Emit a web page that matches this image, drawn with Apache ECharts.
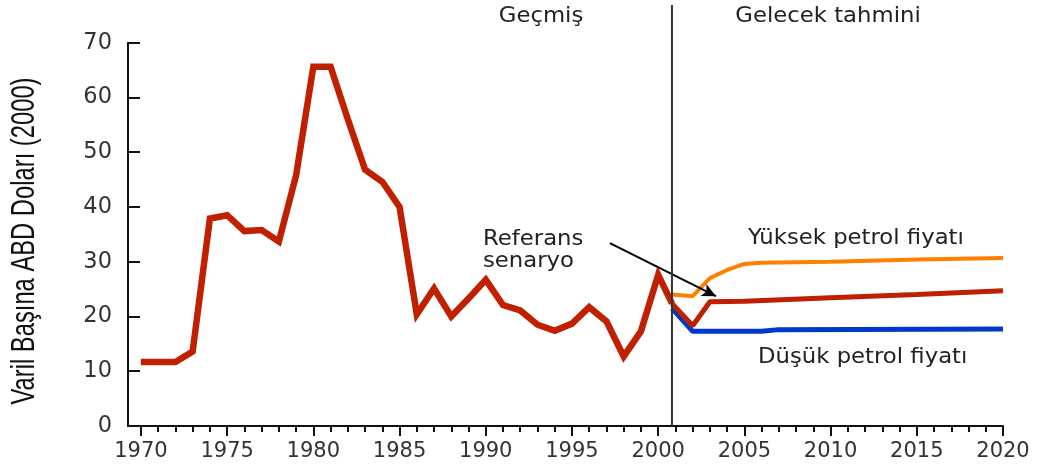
<!DOCTYPE html>
<html>
<head>
<meta charset="utf-8">
<script src="https://cdn.jsdelivr.net/npm/echarts@6/dist/echarts.min.js"></script>
<style>
  html, body { margin: 0; padding: 0; background: #fff; }
  #chart { width: 1038px; height: 464px; }
</style>
</head>
<body>
<div id="chart"></div>
<script>
  'use strict';

  /*----- data -----*/
  var histYears = [1970, 1971, 1972, 1973, 1974, 1975, 1976, 1977, 1978, 1979,
    1980, 1981, 1982, 1983, 1984, 1985, 1986, 1987, 1988, 1989,
    1990, 1991, 1992, 1993, 1994, 1995, 1996, 1997, 1998, 1999, 2000, 2000.8];
  var histValues = [11.7, 11.7, 11.7, 13.6, 37.9, 38.5, 35.6, 35.8, 33.7, 45.8,
    65.6, 65.6, 56.0, 46.8, 44.6, 40.0, 20.4, 25.1, 20.0, 23.3,
    26.7, 22.1, 21.1, 18.5, 17.4, 18.7, 21.7, 19.1, 12.7, 17.3, 27.6, 22.4];

  var refYears = [2000.8, 2002, 2003, 2005, 2010, 2015, 2020];
  var refValues = [22.4, 18.3, 22.7, 22.8, 23.4, 24.0, 24.7];

  var highYears = [2000.8, 2002, 2003, 2004, 2005, 2006, 2010, 2015, 2020];
  var highValues = [24.0, 23.7, 27.0, 28.5, 29.6, 29.8, 30.0, 30.4, 30.7];

  var lowYears = [2000.8, 2002, 2006, 2007, 2020];
  var lowValues = [21.5, 17.3, 17.3, 17.6, 17.7];

  var majorYears = [1970, 1975, 1980, 1985, 1990, 1995, 2000, 2005, 2010, 2015, 2020];
  var minorYears = [];
  for (var y = 1970; y <= 2020; y++) minorYears.push(y);

  var splitYear = 2000.8;

  function pairs(xs, vs) {
    return xs.map(function (x, i) { return [x, vs[i]]; });
  }

  var labelFont = 'DejaVu Sans';
  var red = '#c02000';

  var option = {
    animation: false,
    grid: { left: 128, right: 35, top: 42.7, bottom: 38 },
    xAxis: [
      {
        type: 'value',
        min: 1969.25,
        max: 2020,
        position: 'bottom',
        splitLine: { show: false },
        axisLine: { lineStyle: { color: '#111', width: 2 } },
        axisTick: { customValues: majorYears, length: 10, lineStyle: { color: '#111', width: 2 } },
        axisLabel: {
          customValues: majorYears,
          fontFamily: labelFont, fontSize: 21, color: '#333', margin: 15,
          formatter: function (v) { return String(v); }
        }
      },
      {
        type: 'value',
        min: 1969.25,
        max: 2020,
        position: 'bottom',
        splitLine: { show: false },
        axisLine: { show: false },
        axisTick: { customValues: minorYears, length: 6, lineStyle: { color: '#111', width: 2 } },
        axisLabel: { show: false }
      }
    ],
    yAxis: {
      type: 'value',
      min: 0,
      max: 70,
      interval: 10,
      splitLine: { show: false },
      axisLine: { show: true, lineStyle: { color: '#111', width: 2 } },
      axisTick: { show: true, inside: true, length: 12, lineStyle: { color: '#111', width: 2 } },
      axisLabel: { fontFamily: labelFont, fontSize: 22.5, color: '#333', margin: 16 }
    },
    series: [
      {
        name: 'Yüksek petrol fiyatı',
        type: 'line',
        showSymbol: false,
        data: pairs(highYears, highValues),
        lineStyle: { color: '#ff8000', width: 4 }
      },
      {
        name: 'Düşük petrol fiyatı',
        type: 'line',
        showSymbol: false,
        data: pairs(lowYears, lowValues),
        lineStyle: { color: '#0038c8', width: 5 }
      },
      {
        name: 'Referans senaryo',
        type: 'line',
        showSymbol: false,
        data: pairs(refYears, refValues),
        lineStyle: { color: red, width: 5 },
        markLine: {
          silent: true,
          symbol: ['none', 'arrow'],
          symbolSize: [10, 14],
          label: { show: false },
          lineStyle: { color: '#000', width: 2, type: 'solid' },
          data: [[{ coord: [1997.2, 33.4] }, { coord: [2003.35, 23.7] }]]
        }
      },
      {
        name: 'Geçmiş',
        type: 'line',
        showSymbol: false,
        data: pairs(histYears, histValues),
        lineStyle: { color: red, width: 6.5, join: 'miter' }
      }
    ]
  };

  var chart = echarts.init(document.getElementById('chart'));
  chart.setOption(option);

  // divider between history and forecast, and the free texts
  var sx = chart.convertToPixel({ xAxisIndex: 0 }, splitYear);
  var y0 = chart.convertToPixel({ yAxisIndex: 0 }, 0);
  var txt = { fontFamily: labelFont, fontSize: 20.5, fill: '#222' };

  function label(text, x, yy, align) {
    return {
      type: 'text', x: x, y: yy, z: 10, scaleX: 1.11,
      style: Object.assign({ text: text, align: align || 'left', verticalAlign: 'middle' }, txt)
    };
  }

  chart.setOption({
    graphic: [
      {
        type: 'line', z: 5,
        shape: { x1: sx, y1: 5, x2: sx, y2: y0 },
        style: { stroke: '#333', lineWidth: 2 }
      },
      label('Geçmiş', 541, 17, 'center'),
      label('Gelecek tahmini', 828, 17, 'center'),
      label('Referans', 483, 240),
      label('senaryo', 483, 262),
      label('Yüksek petrol fiyatı', 748, 239),
      label('Düşük petrol fiyatı', 758, 358),
      {
        type: 'text', x: 25, y: 241, rotation: Math.PI / 2, scaleX: 0.72,
        style: {
          text: 'Varil Başına ABD Doları (2000)', align: 'center', verticalAlign: 'middle',
          fontFamily: 'Liberation Sans', fontSize: 33, fill: '#111'
        }
      }
    ]
  });
</script>
</body>
</html>
